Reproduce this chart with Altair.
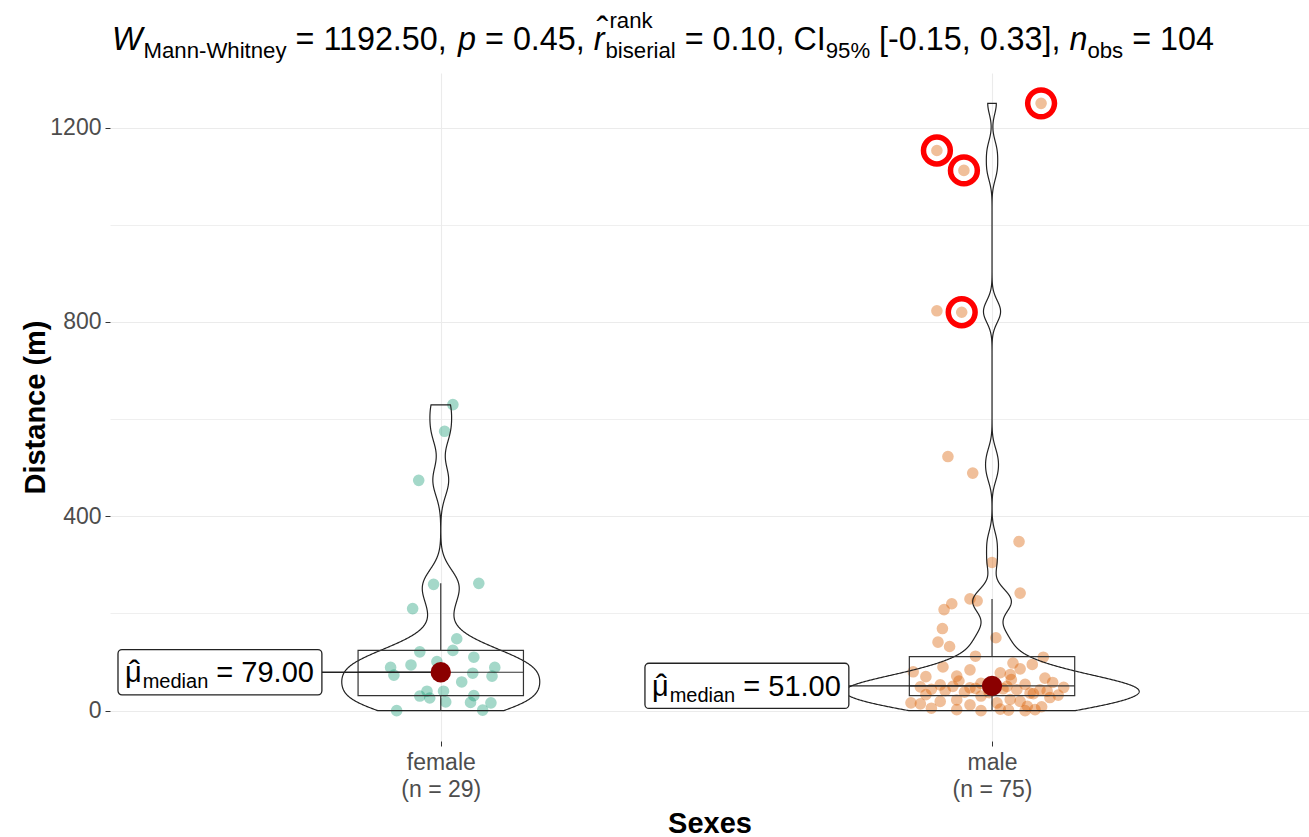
import altair as alt
import numpy as np
import pandas as pd

# ---------------- data ----------------
groups = ["female", "male"]
group_colors = ["#1B9E77", "#D95F02"]

female_distance = [0, 1, 16, 17, 18, 26, 30, 31, 40, 40, 59, 71, 73, 77, 79, 89, 89, 94,
                   101, 110, 121, 124, 148, 210, 260, 262, 474, 575, 630]
female_jitter = [-0.08, 0.076, 0.091, 0.054, 0.009, -0.02, -0.038, 0.06, -0.025, 0.005,
                 0.038, 0.093, -0.085, 0.058, 0.0, -0.091, 0.098, -0.054, -0.007, 0.06,
                 -0.038, 0.022, 0.029, -0.051, -0.013, 0.069, -0.04, 0.007, 0.022]

male_distance = [0, 0, 1, 2, 2, 3, 5, 8, 9, 12, 14, 16, 16, 19, 19, 22, 23, 27, 30, 32,
                 33, 35, 36, 37, 38, 40, 41, 43, 43, 44, 45, 46, 47, 48, 49, 50, 50, 51, 53, 54,
                 56, 58, 61, 64, 67, 70, 71, 74, 78, 80, 84, 86, 90, 95, 98, 110, 112, 132, 141, 150,
                 169, 208, 220, 226, 230, 242, 305, 348, 489, 523, 820, 823, 1112, 1153, 1250]
male_jitter = [-0.02, 0.06, 0.03, -0.064, 0.078, 0.015, -0.11, 0.09, 0.064, -0.04,
               -0.13, 0.009, -0.147, -0.094, 0.051, -0.064, 0.033, 0.105, -0.02, 0.12,
               -0.12, 0.075, 0.069, -0.005, -0.05, 0.1, -0.085, 0.045, 0.087, -0.11,
               0.02, -0.03, -0.04, 0.13, -0.13, -0.071, 0.027, 0.0, -0.094, 0.06,
               -0.02, 0.11, -0.06, 0.035, 0.096, -0.12, -0.064, 0.033, 0.015, -0.143,
               -0.04, 0.051, -0.089, 0.073, 0.038, 0.093, -0.03, -0.077, -0.098, 0.007,
               -0.09, -0.087, -0.073, -0.027, -0.04, 0.051, 0.0, 0.049, -0.035, -0.08,
               -0.055, -0.1, -0.051, -0.1, 0.089]
male_circled = [1250, 1153, 1112, 820]

stat_strings = {"W": "1192.50", "p": "0.45", "r": "0.10", "ci": "[-0.15, 0.33]", "n": "104"}

assert len(female_distance) == len(female_jitter) == 29
assert len(male_distance) == len(male_jitter) == 75
assert np.median(female_distance) == 79 and np.median(male_distance) == 51


def nrd0(x):
    x = np.asarray(x, dtype=float)
    q75, q25 = np.percentile(x, [75, 25])
    lo = min(x.std(ddof=1), (q75 - q25) / 1.34)
    return 0.9 * lo * len(x) ** -0.2


rows = []
for gi, (g, vals, jit) in enumerate([("female", female_distance, female_jitter),
                                     ("male", male_distance, male_jitter)]):
    bw = nrd0(vals)
    for v, j in zip(vals, jit):
        rows.append({"group": g, "gx": gi + 1, "value": v, "jx": gi + 1 + j, "bw": bw,
                     "circled": bool(g == "male" and v in male_circled)})
df = pd.DataFrame(rows)
zmax = float((df.groupby("group")["value"].max() / df.groupby("group")["bw"].first()).max()) + 0.5

# ---------------- layout / style ----------------
F = "Liberation Sans, Arial, sans-serif"
n_f, n_m = len(female_distance), len(male_distance)
lab_expr = (f"datum.value == 1 ? ['female', '(n = {n_f})'] : "
            f"datum.value == 2 ? ['male', '(n = {n_m})'] : ''")

x_scale = alt.Scale(domain=[0.4, 2.575], nice=False, zero=False)
y_scale = alt.Scale(domain=[-62.5, 1312.5], nice=False, zero=False)

x_axis = alt.Axis(values=[1, 2], labelExpr=lab_expr, grid=True, gridColor="#EBEBEB", gridWidth=1.1,
                  domain=False, ticks=True, tickSize=5, tickColor="#333333", tickWidth=1,
                  labelFont=F, labelFontSize=23, labelColor="#4D4D4D", labelLineHeight=27,
                  labelPadding=5, titleFont=F, titleFontSize=29, titleFontWeight="bold",
                  titleColor="black", titleBaseline="alphabetic", titleY=91)
y_axis = alt.Axis(values=list(range(0, 1201, 200)), format="d",
                  labelExpr="datum.value % 400 == 0 ? datum.label : ''",
                  grid=True, gridColor="#EBEBEB",
                  gridWidth={"condition": {"test": "datum.value % 400 != 0", "value": 0.8}, "value": 1.1},
                  tickOpacity={"condition": {"test": "datum.value % 400 != 0", "value": 0}, "value": 1},
                  domain=False, ticks=True, tickSize=5, tickColor="#333333", tickWidth=1,
                  labelFont=F, labelFontSize=23, labelColor="#4D4D4D", labelPadding=4,
                  titleFont=F, titleFontSize=29, titleFontWeight="bold", titleColor="black",
                  titleBaseline="alphabetic", titleX=-66)


def X(field, **kw):
    return alt.X(field, type="quantitative", scale=x_scale, axis=x_axis, title="Sexes", **kw)


def Y(field, **kw):
    return alt.Y(field, type="quantitative", scale=y_scale, axis=y_axis, title="Distance (m)", **kw)


base = alt.Chart(df)

# jittered points
points = base.mark_circle(size=135, opacity=0.4).encode(
    x=X("jx:Q"), y=Y("value:Q"),
    color=alt.Color("group:N", scale=alt.Scale(domain=groups, range=group_colors), legend=None))

# violins (area-scaled, trimmed, per-group nrd0 bandwidth)
HW = 0.267
violin = (base
          .transform_joinaggregate(gmin="min(value)", gmax="max(value)", groupby=["group"])
          .transform_calculate(z="datum.value / datum.bw")
          .transform_density("z", as_=["z", "dens"], bandwidth=1, extent=[0, zmax], steps=3000,
                             groupby=["group", "gx", "bw", "gmin", "gmax"])
          .transform_calculate(value="datum.z * datum.bw", d="datum.dens / datum.bw")
          .transform_filter("datum.value >= datum.gmin && datum.value <= datum.gmax")
          .transform_joinaggregate(dmax="max(d)")
          .transform_calculate(xl=f"datum.gx - datum.d / datum.dmax * {HW}",
                               xr=f"datum.gx + datum.d / datum.dmax * {HW}")
          .mark_area(orient="horizontal", fill="white", fillOpacity=0, stroke="#222222", strokeWidth=1.2)
          .encode(y=Y("value:Q"), x=X("xl:Q"), x2="xr:Q", detail="group:N"))

# boxplot
BH = 0.15
stats = (base.transform_aggregate(q1="q1(value)", q3="q3(value)", med="median(value)",
                                  groupby=["group", "gx"])
         .transform_calculate(bl=f"datum.gx - {BH}", br=f"datum.gx + {BH}"))
box = stats.mark_rect(fill="white", fillOpacity=0, stroke="#333333", strokeWidth=1.2).encode(
    x=X("bl:Q"), x2="br:Q", y=Y("q1:Q"), y2="q3:Q")
med_line = stats.mark_rule(color="#333333", strokeWidth=1.2).encode(x=X("bl:Q"), x2="br:Q", y=Y("med:Q"))

whisk = (base.transform_joinaggregate(q1="q1(value)", q3="q3(value)", groupby=["group"])
         .transform_calculate(iqr="datum.q3 - datum.q1")
         .transform_filter("datum.value <= datum.q3 + 1.5 * datum.iqr && datum.value >= datum.q1 - 1.5 * datum.iqr")
         .transform_aggregate(lo="min(value)", hi="max(value)", q1="min(q1)", q3="min(q3)",
                              groupby=["group", "gx"]))
whisk_up = whisk.mark_rule(color="#333333", strokeWidth=1.2).encode(x=X("gx:Q"), y=Y("q3:Q"), y2="hi:Q")
whisk_lo = whisk.mark_rule(color="#333333", strokeWidth=1.2).encode(x=X("gx:Q"), y=Y("lo:Q"), y2="q1:Q")

# red rings
rings = base.transform_filter("datum.circled").mark_point(
    shape="circle", filled=False, size=720, color="#FF0000", strokeWidth=5.5, opacity=1).encode(
    x=X("jx:Q"), y=Y("value:Q"))

# text width helper (Arial / Liberation Sans metrics)
ARIAL = {' ': 278, '!': 278, '%': 889, '(': 333, ')': 333, ',': 278, '-': 333, '.': 278, '=': 584,
         '[': 278, ']': 278, 'A': 667, 'B': 667, 'C': 722, 'I': 278, 'M': 833, 'W': 944, 'a': 556,
         'b': 556, 'c': 500, 'd': 556, 'e': 556, 'h': 556, 'i': 222, 'k': 500, 'l': 222, 'm': 833,
         'n': 556, 'o': 556, 'p': 556, 'r': 333, 's': 500, 't': 278, 'y': 500, 'μ': 576}


def tw(s, size):
    return sum(ARIAL.get(c, 556) for c in s) / 1000.0 * size


# median labels
LM, LS = 29, 20
pad = 7
mu_x = pad
med_x = pad + tw("μ", LM) + 1
eq_x = med_x + tw("median", LS) + tw(" ", LM)
lab_w_px = eq_x + tw("= 79.00", LM) + 8
px_per_unit = 1199 / (2.575 - 0.4)
lab_w = lab_w_px / px_per_unit
units_per_px_y = 1375 / 668
half_h = 22.6 * units_per_px_y
lab_off = {"female": 0.5855, "male": 0.6296}

lab = (base.transform_aggregate(med="median(value)", groupby=["group", "gx"])
       .transform_calculate(lx=f"datum.gx - (datum.group == 'female' ? {lab_off['female']} : {lab_off['male']})")
       .transform_calculate(rx=f"datum.lx + {lab_w}", ylo=f"datum.med - {half_h}",
                            yhi=f"datum.med + {half_h}", txt="'= ' + format(datum.med, '.2f')"))
connector = lab.mark_rule(color="#222222", strokeWidth=1.3).encode(x=X("rx:Q"), x2="gx:Q", y=Y("med:Q"))
lab_box = lab.mark_rect(fill="white", stroke="#222222", strokeWidth=1.3, cornerRadius=4).encode(
    x=X("lx:Q"), x2="rx:Q", y=Y("ylo:Q"), y2="yhi:Q")
lab_mu = lab.mark_text(text="μ", font=F, fontSize=LM, align="left", baseline="alphabetic",
                       dx=mu_x, dy=10, color="black").encode(x=X("lx:Q"), y=Y("med:Q"))
lab_hat = lab.mark_text(text="ˆ", font=F, fontSize=34, align="center", baseline="alphabetic",
                        dx=mu_x + tw("μ", LM) / 2 + 1, dy=12, color="black").encode(x=X("lx:Q"), y=Y("med:Q"))
lab_sub = lab.mark_text(text="median", font=F, fontSize=LS, align="left", baseline="alphabetic",
                        dx=med_x, dy=16, color="black").encode(x=X("lx:Q"), y=Y("med:Q"))
lab_txt = lab.mark_text(font=F, fontSize=LM, align="left", baseline="alphabetic",
                        dx=eq_x, dy=10, color="black").encode(x=X("lx:Q"), y=Y("med:Q"), text="txt:N")

med_dot = lab.mark_circle(size=415, color="#8B0000", opacity=1).encode(x=X("gx:Q"), y=Y("med:Q"))

# ---------------- title (plotmath-like) ----------------
M, S = 32.3, 22.2
PL, PT = 110, 73
base_y = 50 - PT
one = pd.DataFrame({"a": [0]})
title_layers = []
cur = [112 - PL]


def seg(text, size, italic=False, dy=0, advance=True, at=None, extra=0):
    x0 = cur[0] if at is None else at
    stripped = text.lstrip(" ")
    lead = tw(text[:len(text) - len(stripped)], size)
    kw = dict(text=stripped.rstrip(" "), font=F, fontSize=size, align="left",
              baseline="alphabetic", color="black")
    if italic:
        kw["fontStyle"] = "italic"
    title_layers.append(alt.Chart(one).mark_text(**kw).encode(
        x=alt.value(x0 + lead), y=alt.value(base_y + dy)))
    w = tw(text, size) + extra
    if advance:
        cur[0] = x0 + w
    return x0, w


seg("W", M, italic=True, extra=1)
seg("Mann-Whitney", S, dy=8)
seg(f" = {stat_strings['W']}, ", M)
seg("p", M, italic=True)
seg(f" = {stat_strings['p']}, ", M)
rx0, rw = seg("r", M, italic=True, extra=1)
title_layers.append(alt.Chart(one).mark_text(text="ˆ", font=F, fontSize=36, align="center",
                                             baseline="alphabetic", color="black").encode(
    x=alt.value(rx0 + rw / 2 + 3), y=alt.value(base_y - 7)))
sx = cur[0]
seg("rank", S, dy=-22, advance=False, at=sx + 4)
seg("biserial", S, dy=8, advance=False, at=sx)
cur[0] = sx + max(tw("rank", S) + 4, tw("biserial", S))
seg(" = " + stat_strings["r"] + ", CI", M)
seg("95%", S, dy=8)
seg(f" {stat_strings['ci']}, ", M)
seg("n", M, italic=True)
seg("obs", S, dy=8)
seg(f" = {stat_strings['n']}", M)

layers = [points, violin, box, whisk_up, whisk_lo, med_line, rings, connector, lab_box,
          lab_mu, lab_hat, lab_sub, lab_txt, med_dot] + title_layers

chart = (alt.layer(*layers)
         .properties(width=1199, height=668,
                     padding={"left": PL, "top": PT, "right": 0, "bottom": 96},
                     autosize=alt.AutoSizeParams(type="none"),
                     background="white")
         .configure_view(stroke=None))

chart.save("out.html", embed_options={"renderer": "svg", "actions": False})
